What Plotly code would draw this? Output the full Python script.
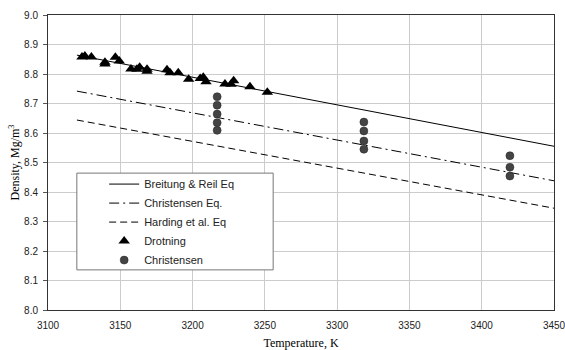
import plotly.graph_objects as go

# Equation lines (endpoints)
eq_T = [3120, 3450]
breitung_eq = [8.864, 8.555]
christensen_eq = [8.742, 8.438]
harding_eq = [8.644, 8.345]

# Drotning data
drot_T = [3123.5, 3125.5, 3130, 3139.4, 3139.4, 3146.6, 3149.3, 3157.4, 3161.5, 3163.4,
          3168.5, 3168.5, 3182.3, 3184.4, 3190.1, 3197.3, 3205.3, 3207.4, 3209.3,
          3222.4, 3226.6, 3228.4, 3239.7, 3251.7]
drot_D = [8.858, 8.861, 8.858, 8.840, 8.834, 8.857, 8.844, 8.817, 8.816, 8.823,
          8.816, 8.809, 8.814, 8.804, 8.804, 8.782, 8.785, 8.789, 8.774,
          8.766, 8.765, 8.777, 8.757, 8.738]

# Christensen data
chr_T = [3217, 3217, 3217, 3217, 3217, 3318.5, 3318.5, 3318.5, 3318.5, 3419.5, 3419.5, 3419.5]
chr_D = [8.723, 8.694, 8.664, 8.635, 8.609, 8.637, 8.607, 8.573, 8.545, 8.523, 8.484, 8.454]

x_ticks = [3100, 3150, 3200, 3250, 3300, 3350, 3400, 3450]
y_ticks = [8.0, 8.1, 8.2, 8.3, 8.4, 8.5, 8.6, 8.7, 8.8, 8.9, 9.0]

fig = go.Figure()
fig.add_trace(go.Scatter(x=eq_T, y=breitung_eq, mode="lines", name="Breitung & Reil Eq",
                         line=dict(color="black", width=1)))
fig.add_trace(go.Scatter(x=eq_T, y=christensen_eq, mode="lines", name="Christensen Eq.",
                         line=dict(color="black", width=1, dash="10px,4px,2px,4px")))
fig.add_trace(go.Scatter(x=eq_T, y=harding_eq, mode="lines", name="Harding et al. Eq",
                         line=dict(color="black", width=1, dash="7px,4px")))
fig.add_trace(go.Scatter(x=drot_T, y=drot_D, mode="markers", name="Drotning",
                         marker=dict(symbol="triangle-up", size=10, color="black")))
fig.add_trace(go.Scatter(x=chr_T, y=chr_D, mode="markers", name="Christensen",
                         marker=dict(symbol="circle", size=8, color="#444444",
                                     line=dict(color="#222222", width=0.5))))

# legend frame
fig.add_shape(type="rect", xref="paper", yref="paper", x0=0.057, x1=0.445, y0=0.136, y1=0.464,
              line=dict(color="#777777", width=1), fillcolor="white", layer="above")

axis_common = dict(showgrid=True, gridcolor="#cccccc", gridwidth=1, zeroline=False,
                   showline=True, linecolor="#333333", linewidth=1, mirror=True,
                   automargin=False, ticklabeloverflow="allow",
                   tickfont=dict(family="Liberation Sans, Arial", size=10, color="#222222"))

fig.update_xaxes(range=[3100, 3450], tickvals=x_ticks, ticks="", ticklabelstandoff=6,
                 title=dict(text="Temperature, K", standoff=10,
                            font=dict(family="Liberation Serif, Times New Roman", size=12, color="black")),
                 **axis_common)
fig.update_yaxes(range=[8.0, 9.0], tickvals=y_ticks, tickformat=".1f",
                 ticks="outside", ticklen=4, tickcolor="#555555", ticklabelstandoff=3,
                 title=dict(text="Density, Mg/m<sup>3</sup>", standoff=1,
                            font=dict(family="Liberation Serif, Times New Roman", size=12, color="black")),
                 **axis_common)

fig.update_layout(
    width=565, height=350,
    margin=dict(l=48, r=11, t=15, b=40),
    plot_bgcolor="white", paper_bgcolor="white",
    font=dict(family="Liberation Sans, Arial", color="#222222"),
    legend=dict(x=0.111, y=0.476, xanchor="left", yanchor="top",
                bgcolor="rgba(0,0,0,0)", borderwidth=0,
                font=dict(family="Liberation Sans, Arial", size=11, color="#222222"),
                itemwidth=30),
    showlegend=True,
)

fig.write_html("out.html", config={"displayModeBar": False},
               post_script="document.body.style.margin='0';")
